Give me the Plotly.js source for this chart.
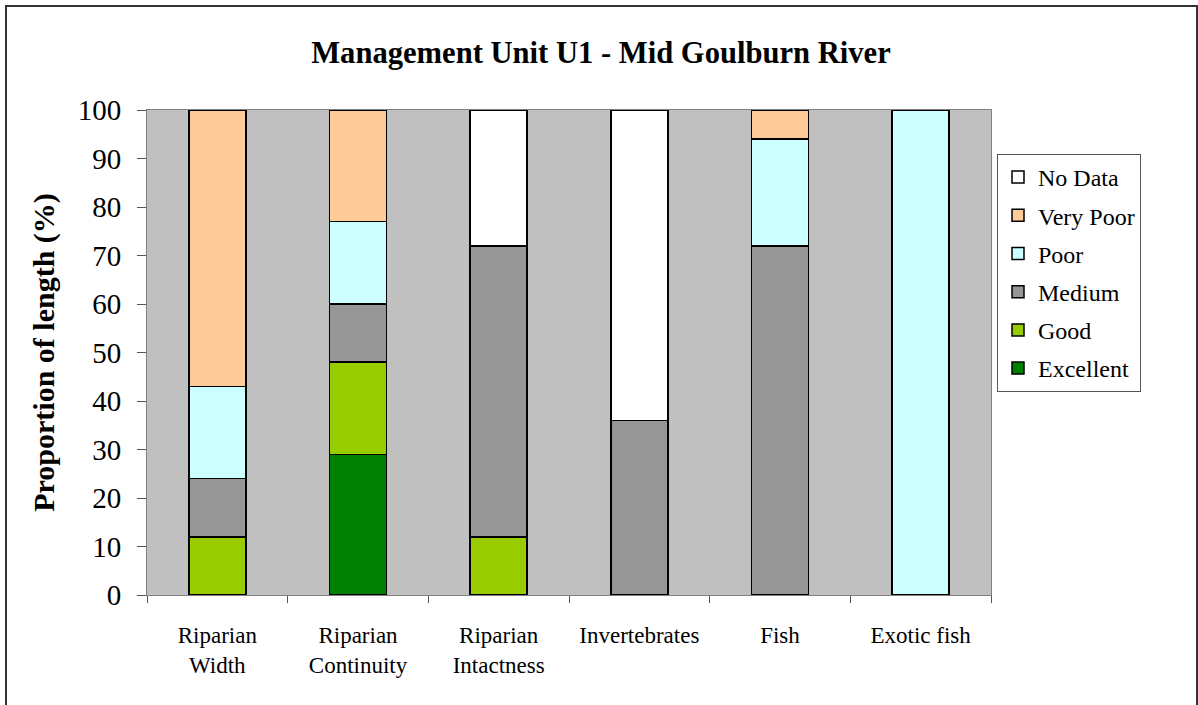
<!DOCTYPE html>
<html>
<head>
<meta charset="utf-8">
<script src="https://cdn.plot.ly/plotly-3.0.1.min.js"></script>
<style>html,body{margin:0;padding:0;background:#fff;}#chart{width:1198px;height:705px;}</style>
</head>
<body>
<div id="chart"></div>
<script>
var categories = ["Riparian<br>Width", "Riparian<br>Continuity", "Riparian<br>Intactness", "Invertebrates", "Fish", "Exotic fish"];
var excellent = [0, 29, 0, 0, 0, 0];
var good      = [12, 19, 12, 0, 0, 0];
var medium    = [12, 12, 60, 36, 72, 0];
var poor      = [19, 17, 0, 0, 22, 100];
var veryPoor  = [57, 23, 0, 0, 6, 0];
var noData    = [0, 0, 28, 64, 0, 0];

var seriesNames  = ["Excellent", "Good", "Medium", "Poor", "Very Poor", "No Data"];
var seriesValues = [excellent, good, medium, poor, veryPoor, noData];
var seriesColors = ["#008000", "#99CC00", "#969696", "#CCFFFF", "#FFCC99", "#FFFFFF"];

var traces = seriesNames.map(function (n, i) {
  return {
    type: "bar",
    name: n,
    legendgroup: n,
    legendrank: seriesNames.length - i,
    x: categories,
    y: seriesValues[i],
    marker: { color: seriesColors[i], line: { color: "#000000", width: 1.5 } },
    hoverinfo: "x+y+name"
  };
});

var W0 = 147, W1 = 991, H0 = 110, H1 = 595;
function px(x) { return (x - W0) / (W1 - W0); }
function py(y) { return (H1 - y) / (H1 - H0); }

var layout = {
  width: 1198, height: 705,
  margin: { l: W0, r: 1198 - W1, t: H0, b: 705 - H1 },
  paper_bgcolor: "#FFFFFF",
  plot_bgcolor: "#C0C0C0",
  barmode: "stack",
  bargap: 0.595,
  font: { family: "Liberation Serif, Times New Roman, serif", color: "#000" },
  title: {
    text: "<b>Management Unit U1 - Mid Goulburn River</b>",
    font: { size: 30.6, family: "Liberation Serif, Times New Roman, serif" },
    x: 601 / 1198, xref: "container", xanchor: "center",
    y: 1 - 52 / 705, yref: "container", yanchor: "middle"
  },
  xaxis: {
    type: "category",
    tickson: "boundaries",
    ticks: "outside", ticklen: 7, tickcolor: "#555",
    showline: true, linecolor: "#808080", linewidth: 1, mirror: true,
    showgrid: false,
    tickfont: { size: 23 },
    ticklabelstandoff: 19,
    fixedrange: true
  },
  yaxis: {
    range: [0, 100],
    dtick: 10,
    ticks: "outside", ticklen: 9, tickcolor: "#555",
    showline: true, linecolor: "#808080", linewidth: 1, mirror: true,
    showgrid: false, zeroline: false,
    tickfont: { size: 29 },
    ticklabelstandoff: 10,
    title: { text: "<b>Proportion of length (%)</b>", font: { size: 30 }, standoff: 14 },
    fixedrange: true
  },
  legend: {
    x: px(997), xanchor: "left",
    y: py(154), yanchor: "top",
    bgcolor: "#FFFFFF",
    bordercolor: "#555",
    borderwidth: 1,
    font: { size: 24 },
    traceorder: "grouped",
    tracegroupgap: 4,
    itemwidth: 30
  },
  shapes: [{
    type: "rect", xref: "paper", yref: "paper",
    x0: px(6), x1: px(1197), y0: py(712), y1: py(6),
    line: { color: "#333", width: 2 }, fillcolor: "rgba(0,0,0,0)", layer: "below"
  }],
  showlegend: true
};

Plotly.newPlot("chart", traces, layout, { displayModeBar: false });
</script>
</body>
</html>
